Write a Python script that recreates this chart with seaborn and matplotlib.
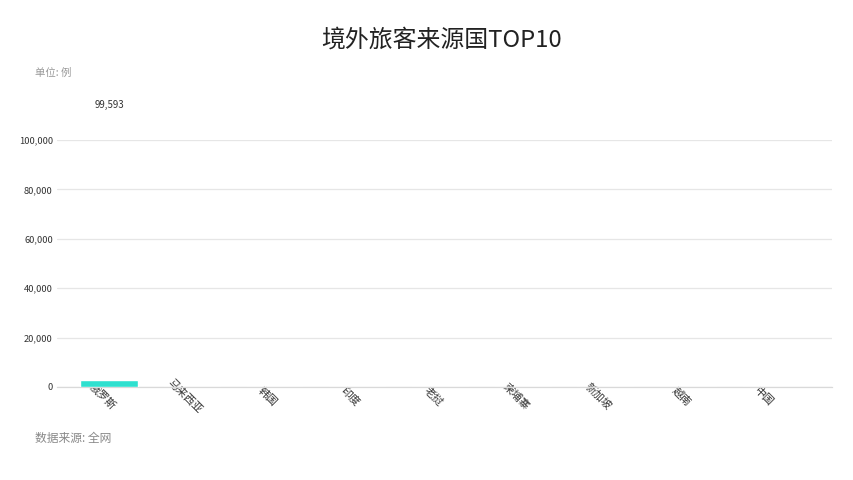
import matplotlib
matplotlib.use('Agg')

import matplotlib.pyplot as plt
import matplotlib.transforms as mtransforms
import seaborn as sns
import pandas as pd

# data (bar is mid-animation in the reference)
countries = ['俄罗斯', '马来西亚', '韩国', '印度', '老挝', '柬埔寨', '新加坡', '越南', '中国']
cases = [3000, 0, 0, 0, 0, 0, 0, 0, 0]
top_label = '99,593'
y_ticks = [0, 20000, 40000, 60000, 80000, 100000]

sns.set_theme(style='white')
plt.rcParams['font.family'] = ['Noto Sans CJK SC', 'DejaVu Sans']

df = pd.DataFrame({'country': countries, 'cases': cases})

fig = plt.figure(figsize=(8.54, 4.8), dpi=100)
ax = fig.add_axes([57 / 854, 1 - 387 / 480, 775 / 854, 247 / 480])

sns.barplot(data=df, x='country', y='cases', color='#2ee0cf', width=0.7,
            saturation=1, ax=ax, zorder=3)

ax.set_xlim(-0.629, 8.74)
ax.set_ylim(0, 100000)
ax.set_yticks(y_ticks)
ax.set_yticklabels([f'{v:,}' for v in y_ticks], fontsize=6.7, color='#333333')
ax.grid(axis='y', color='#e6e6e6', linewidth=0.9, zorder=0)
ax.tick_params(axis='both', length=0)
ax.tick_params(axis='y', pad=3)
ax.tick_params(axis='x', pad=7)

for s in ['top', 'right', 'left']:
    ax.spines[s].set_visible(False)
ax.spines['bottom'].set_color('#d9d9d9')
ax.spines['bottom'].set_linewidth(0.9)

ax.set_xlabel('')
ax.set_ylabel('')
ax.set_xticks(range(len(countries)))
ax.set_xticklabels(countries, rotation=-45, ha='center', va='center',
                   rotation_mode='anchor', fontsize=7.8, color='#333333')
offset = mtransforms.ScaledTranslation(-0.07, 0.0, fig.dpi_scale_trans)
for lbl in ax.get_xticklabels():
    lbl.set_transform(lbl.get_transform() + offset)

# value label of first bar
ax.text(0, 1.14, top_label, transform=ax.get_xaxis_transform(),
        ha='center', va='center', fontsize=7, color='#333333', clip_on=False)

fig.text(442 / 854, 1 - 40 / 480, '境外旅客来源国TOP10', ha='center', va='center',
         fontsize=17.2, color='#222222')
fig.text(35 / 854, 1 - 73 / 480, '单位: 例', ha='left', va='center',
         fontsize=7.5, color='#999999')
fig.text(35 / 854, 1 - 438 / 480, '数据来源: 全网', ha='left', va='center',
         fontsize=8.5, color='#888888')

fig.savefig('out.png', dpi=100)
plt.close(fig)
